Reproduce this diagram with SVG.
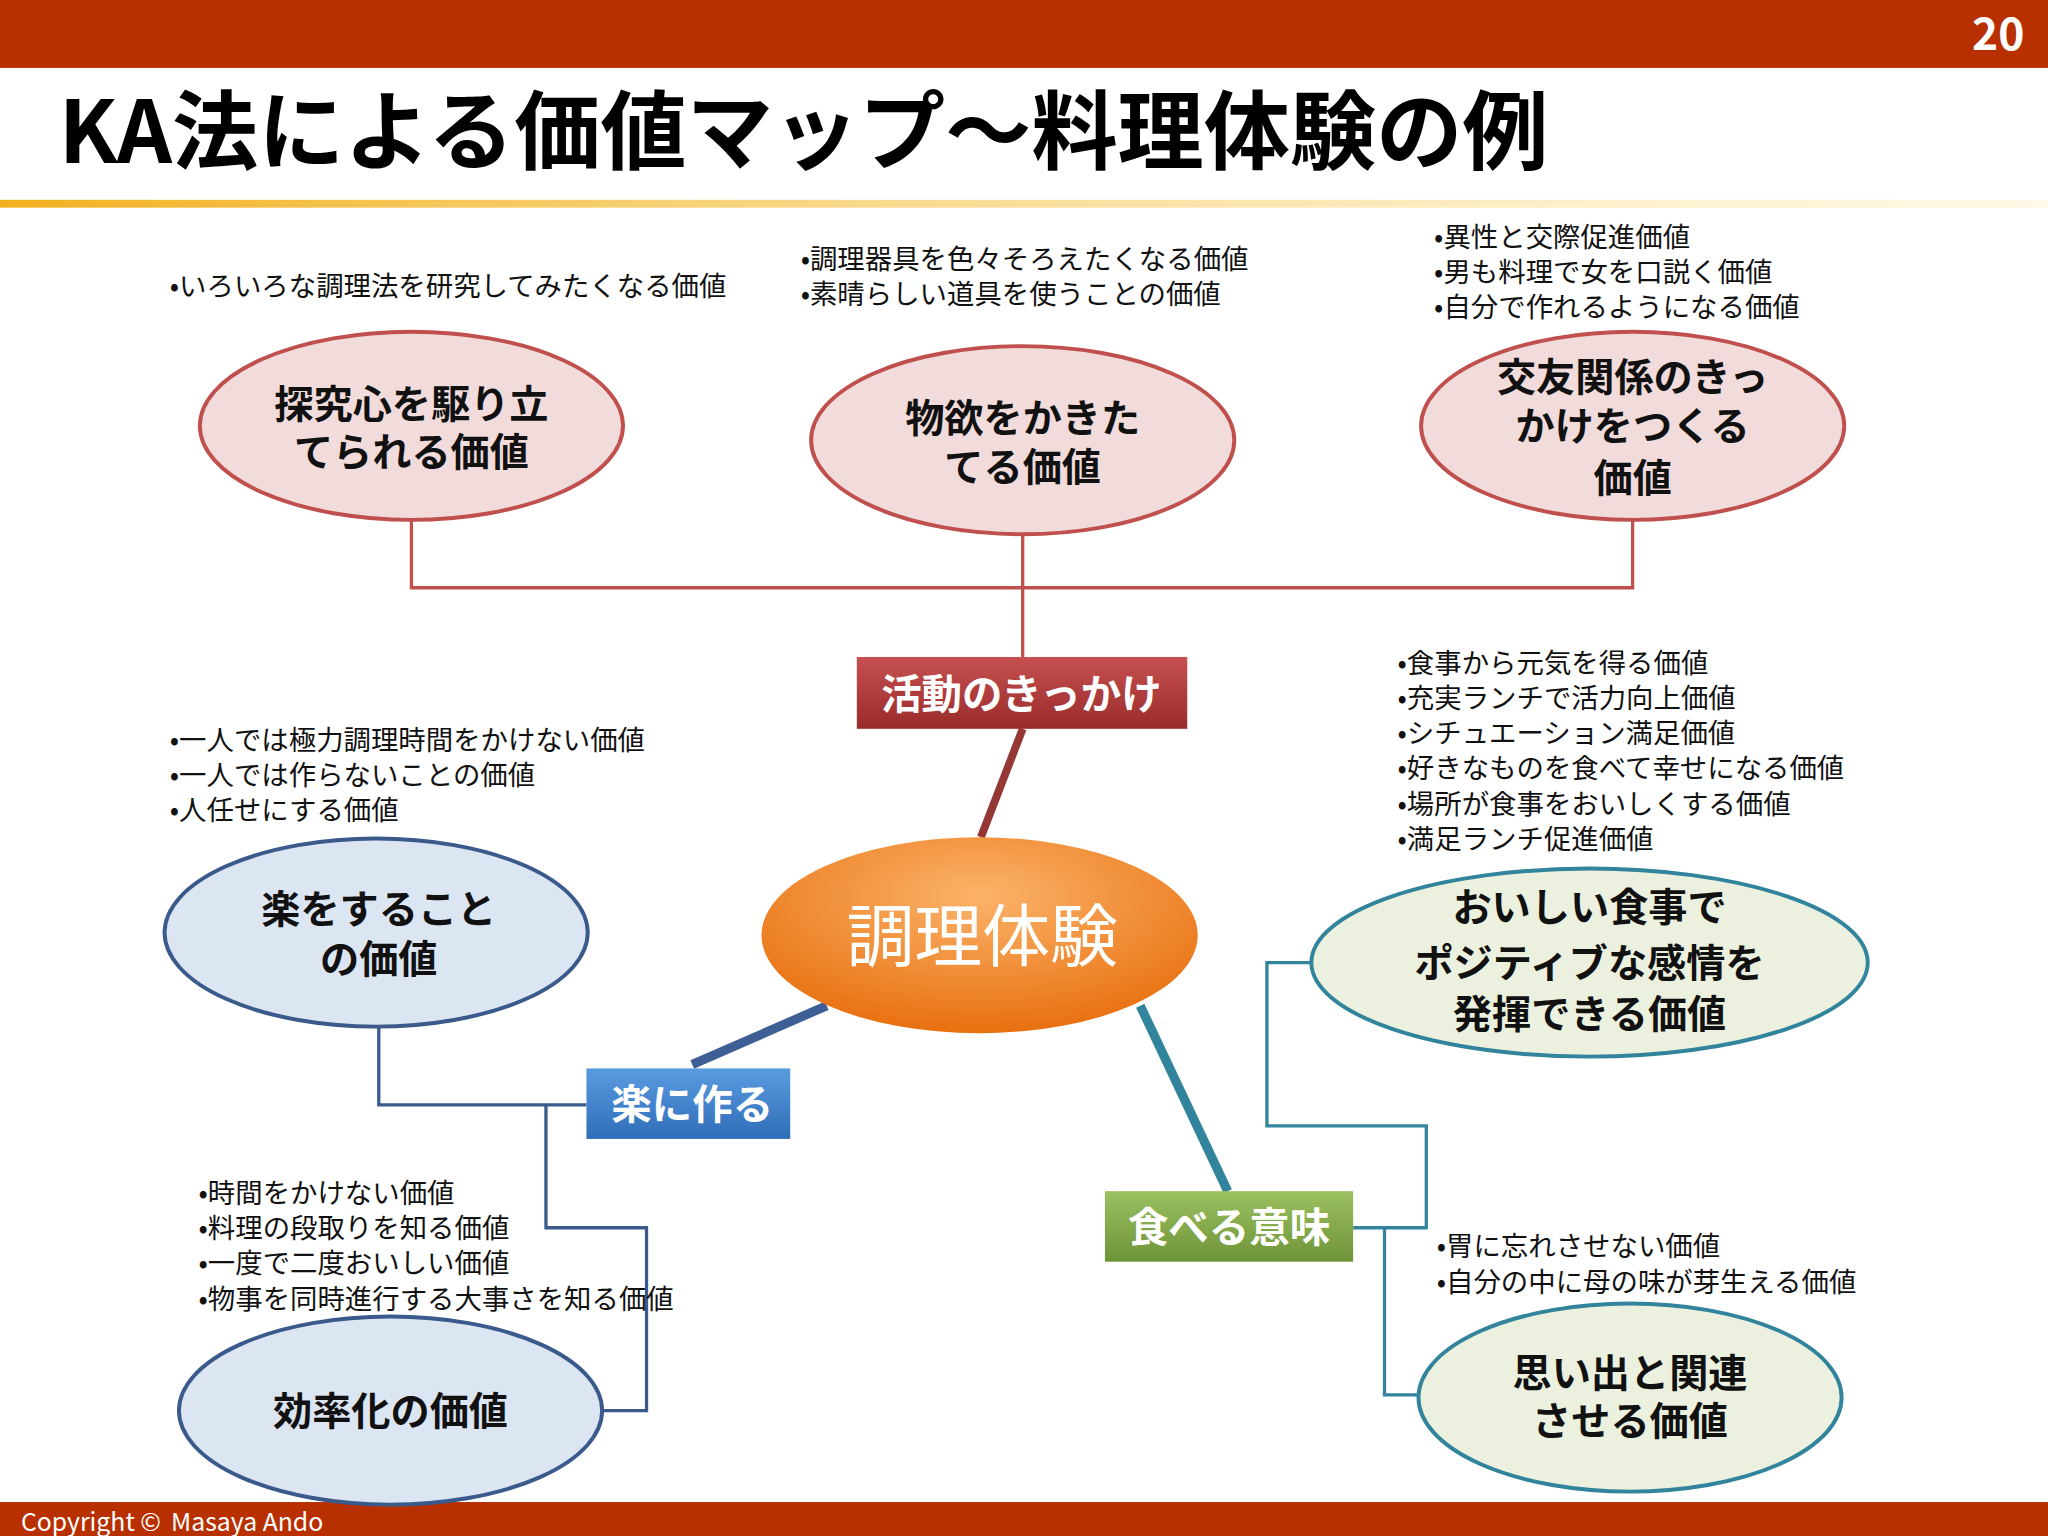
<svg xmlns="http://www.w3.org/2000/svg" width="2048" height="1536" viewBox="0 0 2048 1536">
<defs>
<linearGradient id="yl" x1="0" x2="1"><stop offset="0" stop-color="#F2B01E"/><stop offset="1" stop-color="#FCE9A8" stop-opacity="0.3"/></linearGradient>
<radialGradient id="og" cx="0.5" cy="0.3" r="0.7"><stop offset="0" stop-color="#FBB36A"/><stop offset="1" stop-color="#E8700F"/></radialGradient>
<linearGradient id="rb" x1="0" y1="0" x2="0" y2="1"><stop offset="0" stop-color="#C65050"/><stop offset="1" stop-color="#9A2B2B"/></linearGradient>
<linearGradient id="bb" x1="0" y1="0" x2="0" y2="1"><stop offset="0" stop-color="#5A9BE0"/><stop offset="1" stop-color="#2F6DB8"/></linearGradient>
<linearGradient id="gb" x1="0" y1="0" x2="0" y2="1"><stop offset="0" stop-color="#9BC060"/><stop offset="1" stop-color="#6E9438"/></linearGradient>
<style>
text{font-family:"Noto Sans CJK JP","Liberation Sans",sans-serif}
.b{font-size:21px;fill:#111}
.n{font-size:30px;font-weight:bold;fill:#111;text-anchor:middle}
.bx{font-size:31px;font-weight:bold;fill:#fff;text-anchor:middle}
.pe{fill:#F2DCDB;stroke:#C0504D;stroke-width:3}
.be{fill:#DCE6F2;stroke:#3A5A8C;stroke-width:3}
.ge{fill:#EBF1DE;stroke:#31849B;stroke-width:3}
.lr{fill:none;stroke:#C0504D;stroke-width:2.5}
.lb{fill:none;stroke:#3A5A8C;stroke-width:2.5}
.lg{fill:none;stroke:#31849B;stroke-width:2.5}
</style>
</defs>
<g transform="scale(1.30612)">
<rect width="1568" height="1176" fill="#fff"/>
<rect width="1568" height="52" fill="#B83000"/>
<text x="1550" y="38" font-size="34" font-weight="bold" fill="#fff" text-anchor="end">20</text>
<text x="45" y="125" font-size="66" font-weight="bold" fill="#000">KA法による価値マップ～料理体験の例</text>
<rect x="0" y="153" width="1568" height="6" fill="url(#yl)"/>
<rect x="0" y="1150" width="1568" height="26" fill="#B83000"/>
<text x="16" y="1172" font-size="19" fill="#fff" font-family="Liberation Sans,sans-serif">Copyright ©</text>
<text x="131" y="1172" font-size="19" fill="#fff" font-family="Liberation Sans,sans-serif">Masaya Ando</text>

<g id="connectors">
<path class="lr" d="M315 398V450H1250V396M783 410V503"/>
<line x1="783" y1="558" x2="751" y2="641" stroke="#953735" stroke-width="6"/>
<line x1="530" y1="815" x2="633" y2="770" stroke="#3D5F96" stroke-width="7"/>
<line x1="873" y1="770" x2="940" y2="912" stroke="#31849B" stroke-width="7"/>
<path class="lb" d="M290 787V846H449M418 846V940H495V1080H461"/>
<path class="lg" d="M1036 940H1092V862H970V737H1004M1060 940V1068H1086"/>
</g>

<g id="n1"><ellipse class="pe" cx="315" cy="326" rx="162" ry="72"/><text class="n" x="315" y="320">探究心を駆り立</text><text class="n" x="315" y="357">てられる価値</text></g>
<g id="n2"><ellipse class="pe" cx="783" cy="337" rx="162" ry="72"/><text class="n" x="783" y="331">物欲をかきた</text><text class="n" x="783" y="368">てる価値</text></g>
<g id="n3"><ellipse class="pe" cx="1250" cy="326" rx="162" ry="72"/><text class="n" x="1250" y="299">交友関係のきっ</text><text class="n" x="1250" y="337">かけをつくる</text><text class="n" x="1250" y="377">価値</text></g>
<g id="t1"><text class="b" x="130" y="227">•いろいろな調理法を研究してみたくなる価値</text></g>
<g id="t2"><text class="b" x="613" y="206">•調理器具を色々そろえたくなる価値</text><text class="b" x="613" y="233">•素晴らしい道具を使うことの価値</text></g>
<g id="t3"><text class="b" x="1098" y="189">•異性と交際促進価値</text><text class="b" x="1098" y="216">•男も料理で女を口説く価値</text><text class="b" x="1098" y="243">•自分で作れるようになる価値</text></g>

<g id="box1"><rect x="656" y="503" width="253" height="55" fill="url(#rb)"/><text class="bx" x="782" y="543">活動のきっかけ</text></g>
<g id="center"><ellipse cx="750" cy="716" rx="167" ry="75" fill="url(#og)"/><text x="752" y="736" font-size="52" fill="#fff" text-anchor="middle">調理体験</text></g>

<g id="t4"><text class="b" x="130" y="574">•一人では極力調理時間をかけない価値</text><text class="b" x="130" y="601">•一人では作らないことの価値</text><text class="b" x="130" y="628">•人任せにする価値</text></g>
<g id="n4"><ellipse class="be" cx="288" cy="714" rx="162" ry="72"/><text class="n" x="290" y="707">楽をすること</text><text class="n" x="290" y="745">の価値</text></g>
<g id="box2"><rect x="449" y="818" width="156" height="54" fill="url(#bb)"/><text class="bx" x="530" y="857">楽に作る</text></g>
<g id="t5"><text class="b" x="152" y="921">•時間をかけない価値</text><text class="b" x="152" y="948">•料理の段取りを知る価値</text><text class="b" x="152" y="975">•一度で二度おいしい価値</text><text class="b" x="152" y="1002">•物事を同時進行する大事さを知る価値</text></g>
<g id="n5"><ellipse class="be" cx="299" cy="1080" rx="162" ry="72"/><text class="n" x="299" y="1091">効率化の価値</text></g>

<g id="t6"><text class="b" x="1070" y="515">•食事から元気を得る価値</text><text class="b" x="1070" y="542">•充実ランチで活力向上価値</text><text class="b" x="1070" y="569">•シチュエーション満足価値</text><text class="b" x="1070" y="596">•好きなものを食べて幸せになる価値</text><text class="b" x="1070" y="623">•場所が食事をおいしくする価値</text><text class="b" x="1070" y="650">•満足ランチ促進価値</text></g>
<g id="n6"><ellipse class="ge" cx="1217" cy="737" rx="213" ry="72"/><text class="n" x="1217" y="705">おいしい食事で</text><text class="n" x="1217" y="748">ポジティブな感情を</text><text class="n" x="1217" y="787">発揮できる価値</text></g>
<g id="box3"><rect x="846" y="912" width="190" height="54" fill="url(#gb)"/><text class="bx" x="941" y="951">食べる意味</text></g>
<g id="t7"><text class="b" x="1100" y="962">•胃に忘れさせない価値</text><text class="b" x="1100" y="989">•自分の中に母の味が芽生える価値</text></g>
<g id="n7"><ellipse class="ge" cx="1248" cy="1070" rx="162" ry="72"/><text class="n" x="1248" y="1062">思い出と関連</text><text class="n" x="1248" y="1099">させる価値</text></g>
</g>
</svg>
